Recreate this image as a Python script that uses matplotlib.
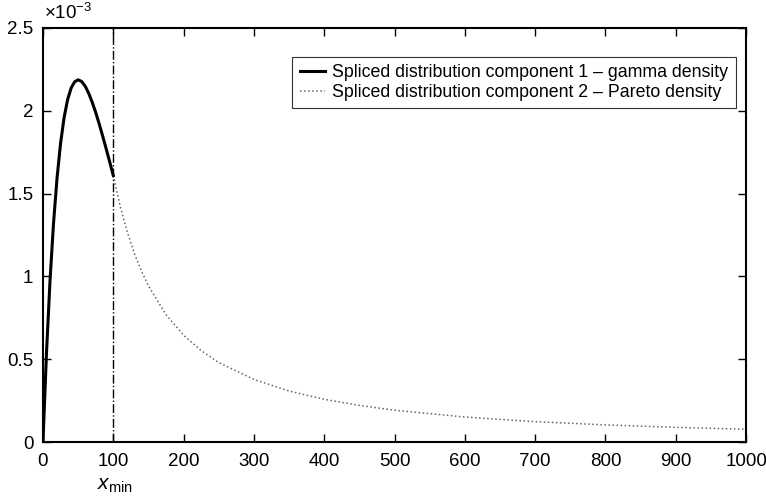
import matplotlib
matplotlib.use("Agg")
import matplotlib.pyplot as plt
import matplotlib.transforms as mtransforms

plt.rcParams['font.family'] = ['Liberation Sans', 'DejaVu Sans']
plt.rcParams['mathtext.fontset'] = 'custom'
plt.rcParams['mathtext.rm'] = 'Liberation Sans'
plt.rcParams['mathtext.it'] = 'Liberation Sans:italic'

# ----------------- Data (density values in units of 1e-3) -----------------
gamma_x = [0, 5, 10, 15, 20, 25, 30, 35, 40, 45, 50, 55, 60, 65, 70, 75, 80, 85, 90, 95, 100]
gamma_y = [0.0, 0.538, 0.973, 1.321, 1.594, 1.803, 1.958, 2.067, 2.137, 2.175, 2.187,
           2.177, 2.149, 2.106, 2.052, 1.990, 1.920, 1.846, 1.769, 1.690, 1.609]

pareto_x = [100, 110, 120, 130, 140, 150, 175, 200, 225, 250, 300, 350, 400, 450,
            500, 600, 700, 800, 900, 1000]
pareto_y = [1.610, 1.420, 1.266, 1.139, 1.033, 0.943, 0.769, 0.645, 0.552, 0.480,
            0.378, 0.308, 0.258, 0.221, 0.192, 0.151, 0.123, 0.1035, 0.0886, 0.077]

x_min = 100
x_ticks = [0, 100, 200, 300, 400, 500, 600, 700, 800, 900, 1000]
y_ticks = [0, 0.5, 1, 1.5, 2, 2.5]
y_labels = ["0", "0.5", "1", "1.5", "2", "2.5"]

# ----------------- Plot -----------------
fig = plt.figure(figsize=(7.66, 4.98), dpi=100)
ax = fig.add_axes([0.0561, 0.1124, 0.9179, 0.8314])

ax.plot(gamma_x, gamma_y, color="black", linewidth=2.2,
        label="Spliced distribution component 1 \u2013 gamma density")
ax.plot(pareto_x, pareto_y, color="0.4", linewidth=1.1, linestyle=":",
        label="Spliced distribution component 2 \u2013 Pareto density")
ax.axvline(x_min, color="black", linewidth=1, linestyle="-.")

ax.set_xlim(0, 1000)
ax.set_ylim(0, 2.5)
ax.set_xticks(x_ticks)
ax.set_yticks(y_ticks)
ax.set_yticklabels(y_labels)
ax.tick_params(direction="in", top=True, right=True, length=6, width=1,
               labelsize=13.5, colors="black")
ax.tick_params(axis="x", pad=8)
ax.tick_params(axis="y", pad=7)
for s in ax.spines.values():
    s.set_linewidth(1.5)

# exponent label and x_min label
ax.text(0.002, 1.012, "\u00d710$^{-3}$", transform=ax.transAxes, fontsize=13.5,
        ha="left", va="bottom")
trans = mtransforms.blended_transform_factory(ax.transData, ax.transAxes)
ax.text(x_min + 2, -0.083, "$x_{\\mathrm{min}}$", transform=trans, fontsize=15,
        ha="center", va="top")

leg = ax.legend(loc="upper right", bbox_to_anchor=(0.985, 0.93), fontsize=12.8,
                frameon=True, fancybox=False, framealpha=1, borderpad=0.4,
                borderaxespad=0, handlelength=1.45, handletextpad=0.4,
                labelspacing=0.18)
leg.get_frame().set_edgecolor("0.2")
leg.get_frame().set_linewidth(0.8)

plt.savefig("out.png", dpi=100)
plt.close()
